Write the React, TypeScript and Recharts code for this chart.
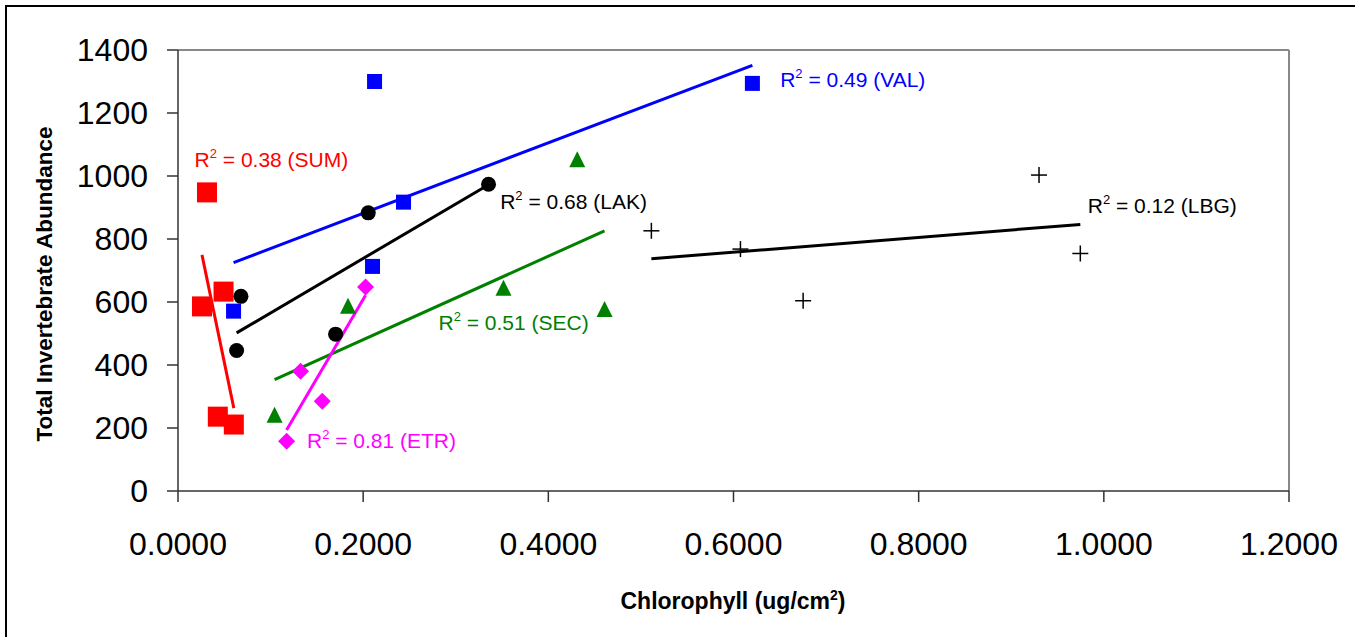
import { ScatterChart, Scatter, XAxis, YAxis, ReferenceLine } from "recharts"

// chlorophyll (ug/cm2) vs total invertebrate abundance, one pair of arrays per site
const sumChl = [0.0313, 0.0492, 0.0259, 0.043, 0.0603]
const sumAbund = [948, 633, 586, 236, 211]

const valChl = [0.2123, 0.2436, 0.2101, 0.06, 0.6204]
const valAbund = [1300, 917, 713, 571, 1294]

const lakChl = [0.068, 0.0633, 0.1702, 0.2055, 0.3354]
const lakAbund = [618, 446, 498, 883, 974]

const secChl = [0.1043, 0.1836, 0.4312, 0.3516, 0.4607]
const secAbund = [242, 588, 1053, 645, 578]

const etrChl = [0.1173, 0.1324, 0.1558, 0.2026]
const etrAbund = [158, 380, 285, 648]

const lbgChl = [0.5113, 0.6075, 0.6752, 0.93, 0.9746]
const lbgAbund = [826, 768, 604, 1003, 754]

const xTicks = [0, 0.2, 0.4, 0.6, 0.8, 1.0, 1.2]
const yTicks = [0, 200, 400, 600, 800, 1000, 1200, 1400]

const FONT = '"Liberation Sans", Arial, sans-serif'

type Pt = { x: number; y: number }

const toPoints = (xs: number[], ys: number[]): Pt[] => xs.map((x, i) => ({ x, y: ys[i] }))

// least-squares line across the range of the data
function trend(xs: number[], ys: number[]): [Pt, Pt] {
  const n = xs.length
  const mx = xs.reduce((a, b) => a + b, 0) / n
  const my = ys.reduce((a, b) => a + b, 0) / n
  let sxy = 0
  let sxx = 0
  xs.forEach((x, i) => {
    sxy += (x - mx) * (ys[i] - my)
    sxx += (x - mx) * (x - mx)
  })
  const slope = sxy / sxx
  const lo = Math.min(...xs)
  const hi = Math.max(...xs)
  return [
    { x: lo, y: my + slope * (lo - mx) },
    { x: hi, y: my + slope * (hi - mx) },
  ]
}

const squareShape = (side: number, fill: string) => (p: any) => (
  <rect x={p.cx - side / 2} y={p.cy - side / 2} width={side} height={side} fill={fill} />
)
const circleShape = (p: any) => <circle cx={p.cx} cy={p.cy} r={7.5} fill="#000" />
const triangleShape = (p: any) => (
  <polygon
    points={`${p.cx},${p.cy - 8} ${p.cx - 8},${p.cy + 8} ${p.cx + 8},${p.cy + 8}`}
    fill="#008000"
  />
)
const diamondShape = (p: any) => (
  <polygon
    points={`${p.cx},${p.cy - 8.5} ${p.cx + 8.5},${p.cy} ${p.cx},${p.cy + 8.5} ${p.cx - 8.5},${p.cy}`}
    fill="#FF00FF"
  />
)
const plusShape = (p: any) => (
  <g stroke="#000" strokeWidth={1.5}>
    <line x1={p.cx - 8} y1={p.cy} x2={p.cx + 8} y2={p.cy} />
    <line x1={p.cx} y1={p.cy - 8} x2={p.cx} y2={p.cy + 8} />
  </g>
)

// R² annotations, anchored at the left end of the text baseline
const r2Notes = [
  { x: 0.6504, y: 1284, text: "0.49 (VAL)", color: "#0000FF" },
  { x: 0.0179, y: 1027, text: "0.38 (SUM)", color: "#FF0000" },
  { x: 0.348, y: 894, text: "0.68 (LAK)", color: "#000000" },
  { x: 0.9826, y: 883, text: "0.12 (LBG)", color: "#000000" },
  { x: 0.2814, y: 510, text: "0.51 (SEC)", color: "#008000" },
  { x: 0.1393, y: 137, text: "0.81 (ETR)", color: "#FF00FF" },
]

const noteShape = (p: any) => {
  const d = p.payload ?? p
  return (
    <text x={p.cx} y={p.cy} fill={d.color} fontSize={21} fontFamily={FONT}>
      <tspan>R</tspan>
      <tspan fontSize={13} dy={-9}>2</tspan>
      <tspan dy={9}>{` = ${d.text}`}</tspan>
    </text>
  )
}

const sites = [
  { name: "SUM", xs: sumChl, ys: sumAbund, color: "#FF0000", shape: squareShape(20, "#FF0000") },
  { name: "VAL", xs: valChl, ys: valAbund, color: "#0000FF", shape: squareShape(15, "#0000FF") },
  { name: "LAK", xs: lakChl, ys: lakAbund, color: "#000000", shape: circleShape },
  { name: "SEC", xs: secChl, ys: secAbund, color: "#008000", shape: triangleShape },
  { name: "ETR", xs: etrChl, ys: etrAbund, color: "#FF00FF", shape: diamondShape },
  { name: "LBG", xs: lbgChl, ys: lbgAbund, color: "#000000", shape: plusShape },
]

const tickStyle = { fill: "#000", fontSize: 32, fontFamily: FONT }

export default function App() {
  return (
    <div
      style={{
        position: "absolute",
        left: 0,
        top: 0,
        width: 1355,
        height: 637,
        overflow: "hidden",
        background: "#fff",
      }}
    >
      <div
        style={{
          position: "absolute",
          left: 5,
          top: 5,
          width: 1400,
          height: 700,
          borderTop: "2px solid #000",
          borderLeft: "2px solid #000",
        }}
      />
      <div style={{ position: "absolute", left: 0, top: 0 }}>
        <ScatterChart
          width={1355}
          height={637}
          margin={{ top: 50, right: 66, bottom: 0, left: 0 }}
          style={{ fontFamily: FONT }}
        >
          <XAxis
            type="number"
            dataKey="x"
            domain={[0, 1.2]}
            ticks={xTicks}
            interval={0}
            allowDataOverflow
            tickFormatter={(v: number) => v.toFixed(4)}
            tickSize={11}
            tickMargin={30}
            height={146}
            axisLine={{ stroke: "#333", strokeWidth: 1.5 }}
            tickLine={{ stroke: "#333", strokeWidth: 1.5 }}
            tick={tickStyle}
          />
          <YAxis
            type="number"
            dataKey="y"
            domain={[0, 1400]}
            ticks={yTicks}
            interval={0}
            allowDataOverflow
            width={178}
            tickSize={11}
            tickMargin={19}
            axisLine={{ stroke: "#333", strokeWidth: 1.5 }}
            tickLine={{ stroke: "#333", strokeWidth: 1.5 }}
            tick={tickStyle}
          />
          <ReferenceLine y={1400} stroke="#888" strokeWidth={2} />
          <ReferenceLine x={1.2} stroke="#888" strokeWidth={2} />
          {sites.map((s) => (
            <Scatter
              key={s.name}
              name={s.name}
              data={toPoints(s.xs, s.ys)}
              shape={s.shape}
              isAnimationActive={false}
            />
          ))}
          {sites.map((s) => (
            <ReferenceLine
              key={`fit-${s.name}`}
              segment={trend(s.xs, s.ys)}
              stroke={s.color}
              strokeWidth={3}
            />
          ))}
          <Scatter data={r2Notes} shape={noteShape} isAnimationActive={false} />
        </ScatterChart>
      </div>
      <svg
        width={1355}
        height={637}
        style={{ position: "absolute", left: 0, top: 0, pointerEvents: "none" }}
        fontFamily={FONT}
        fontWeight="bold"
        fontSize={22.5}
      >
        <text x={44} y={284} transform="rotate(-90 44 284)" textAnchor="middle" dominantBaseline="central">
          Total Invertebrate Abundance
        </text>
        <text x={733} y={609} textAnchor="middle" fontSize={23}>
          Chlorophyll (ug/cm<tspan fontSize={14} dy={-9}>2</tspan>
          <tspan dy={9}>)</tspan>
        </text>
      </svg>
    </div>
  )
}
